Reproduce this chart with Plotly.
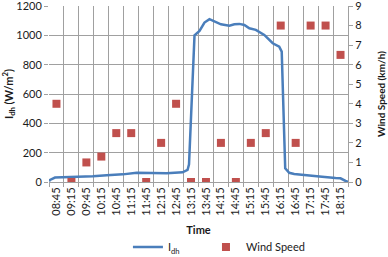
import plotly.graph_objects as go

# ---- data ----
tick_labels = ["08:45", "09:15", "09:45", "10:15", "10:45", "11:15", "11:45", "12:15",
               "12:45", "13:15", "13:45", "14:15", "14:45", "15:15", "15:45", "16:15",
               "16:45", "17:15", "17:45", "18:15"]

wind_times = tick_labels
wind_speed = [4, 0, 1, 1.3, 2.5, 2.5, 0, 2, 4, 0, 0, 2, 0, 2, 2.5, 8, 2, 8, 8, 6.5]

idh_times = ["08:30", "08:32", "08:42", "09:18", "09:58", "10:26", "10:58", "11:26", "11:52",
             "12:26", "12:58", "13:08", "13:11", "13:22", "13:32", "13:42", "13:52", "14:02",
             "14:15", "14:32", "14:42", "14:52", "15:02", "15:12", "15:25", "15:42", "15:59",
             "16:12", "16:17", "16:24", "16:32", "16:42", "17:12", "17:38", "18:05", "18:15",
             "18:25", "18:30"]
idh_values = [5, 14, 30, 32, 39, 46, 52, 63, 61,
              59, 66, 82, 120, 1000, 1030, 1087, 1110, 1093,
              1075, 1066, 1075, 1078, 1071, 1048, 1037, 1003, 946,
              923, 889, 93, 63, 55, 43, 36, 27, 25,
              7, 2]

DAY = "2000-01-01 "


def ts(t):
    return DAY + t


fig = go.Figure()
fig.add_trace(go.Scatter(
    x=[ts(t) for t in idh_times], y=idh_values, mode="lines",
    name="I<sub>dh</sub>", line=dict(color="#4A7EBB", width=2.5), yaxis="y",
    legend="legend"))
fig.add_trace(go.Scatter(
    x=[ts(t) for t in wind_times], y=wind_speed, mode="markers",
    name="Wind Speed", marker=dict(symbol="square", size=8, color="#C0504D"), yaxis="y2",
    legend="legend2"))

FONT = "Lato, 'Open Sans', sans-serif"
GRID = "#A0A0A0"
STEP = 30 * 60 * 1000

fig.update_layout(
    width=388, height=257,
    margin=dict(l=49, r=40, t=6, b=75, autoexpand=False),
    paper_bgcolor="white", plot_bgcolor="white",
    font=dict(family=FONT, size=11, color="#1a1a1a"),
    showlegend=True,
    legend=dict(orientation="h", x=0.264, y=-0.37, xanchor="left", yanchor="middle",
                font=dict(size=11), bgcolor="rgba(0,0,0,0)"),
    legend2=dict(orientation="h", x=0.525, y=-0.37, xanchor="left", yanchor="middle",
                 font=dict(size=11), bgcolor="rgba(0,0,0,0)"),
    xaxis=dict(
        type="date", range=[ts("08:30"), ts("18:30")], automargin=False,
        tickmode="linear", tick0=ts(tick_labels[0]), dtick=STEP,
        tickformat="%H:%M", tickangle=-90, showgrid=False, ticks="",
        tickfont=dict(size=11), ticklabeloverflow="allow",
        minor=dict(tick0=ts("08:30"), dtick=STEP, showgrid=True, gridcolor=GRID,
                   gridwidth=1, ticks="outside", ticklen=4, tickcolor=GRID),
        showline=True, linecolor=GRID, linewidth=1, zeroline=False,
        title=dict(text="<b>Time</b>", font=dict(size=11), standoff=11),
    ),
    yaxis=dict(
        range=[0, 1200], dtick=200, showgrid=True, gridcolor=GRID, gridwidth=1,
        ticks="outside", ticklen=4, tickcolor=GRID, zeroline=False, automargin=False,
        tickfont=dict(size=11), ticklabeloverflow="allow",
        title=dict(text="<b>I<sub>dh</sub> (W/m<sup>2</sup>)</b>", font=dict(size=11), standoff=6),
    ),
    yaxis2=dict(
        range=[0, 9], dtick=1, overlaying="y", side="right", showgrid=False,
        ticks="outside", ticklen=4, tickcolor=GRID, showline=True, linecolor=GRID,
        linewidth=1, zeroline=False, tickfont=dict(size=11), automargin=False,
        ticklabeloverflow="allow",
        title=dict(text="<b>Wind Speed (km/h)</b>", font=dict(size=10), standoff=16),
    ),
)

fig.write_html("out.html", config={"displayModeBar": False},
               post_script="document.body.style.margin='0';document.body.style.overflow='hidden';")
